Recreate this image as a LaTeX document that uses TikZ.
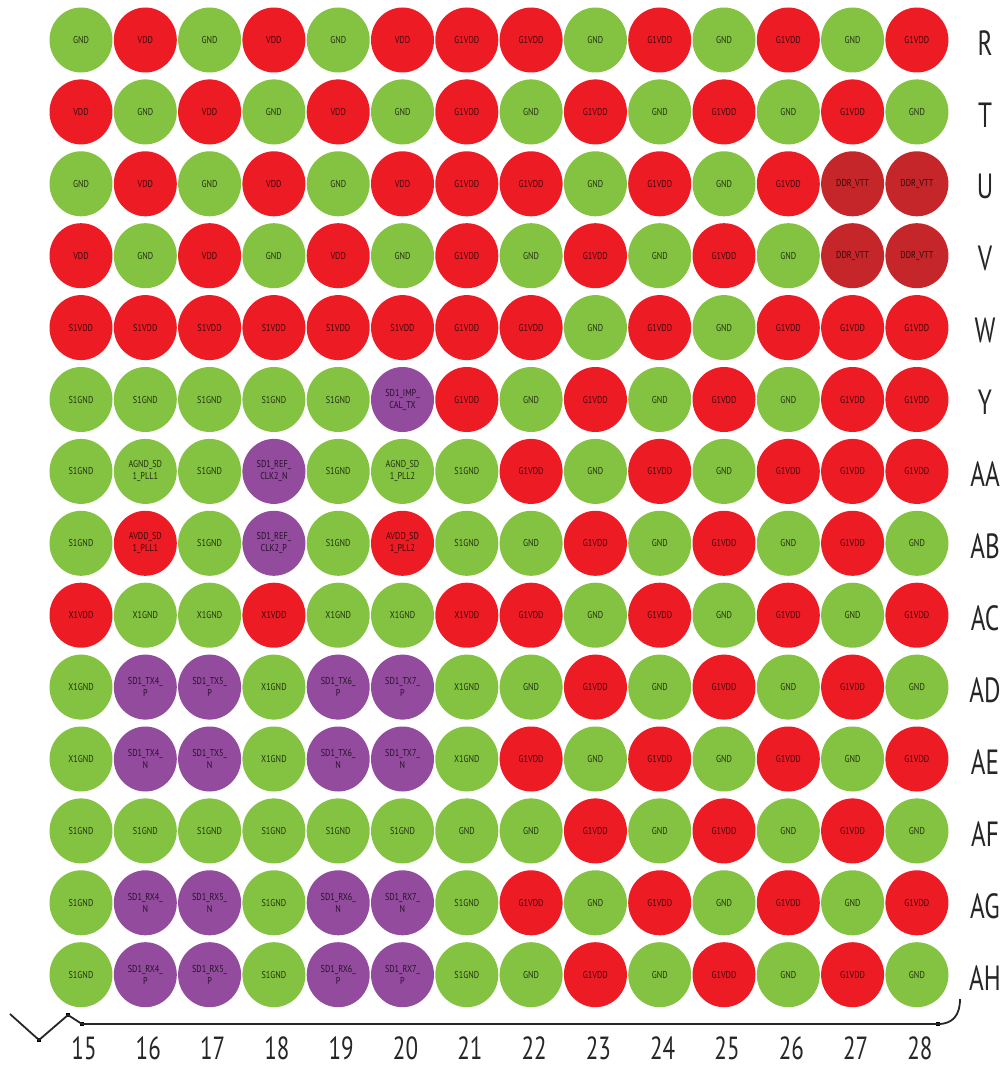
\documentclass[tikz,border=0pt]{standalone}
\usepackage{fontspec}
\newfontfamily\ballfont{PT Sans}[FakeStretch=0.82]
\newfontfamily\labfont{PT Sans}[FakeStretch=0.72]
\usetikzlibrary{shapes.geometric}
\definecolor{ballg}{HTML}{84C341}
\definecolor{ballr}{HTML}{ED1C24}
\definecolor{balld}{HTML}{C4262A}
\definecolor{ballp}{HTML}{934B9E}

\begin{document}
\begin{tikzpicture}[
  x=1pt,y=-1pt,
  ball/.style={ellipse,minimum width=63pt,minimum height=65pt,inner sep=0pt,align=center,
    font=\ballfont\fontsize{10}{12}\selectfont,text=black,text opacity=0.75},
  rowlab/.style={font=\labfont\fontsize{35}{35}\selectfont,text=black!85},
  collab/.style={font=\labfont\fontsize{32}{32}\selectfont,text=black!85,inner sep=0pt},
  tick/.style={fill=black,minimum size=4pt,inner sep=0pt},
  brace/.style={line width=1.8pt,black!85}
]
\useasboundingbox (0,0) rectangle (1008,1067);
% ball map, one row per line
\foreach \rn/\pins [count=\i from 0] in {
  R/{g/GND,r/VDD,g/GND,r/VDD,g/GND,r/VDD,r/G1VDD,r/G1VDD,g/GND,r/G1VDD,g/GND,r/G1VDD,g/GND,r/G1VDD},
  T/{r/VDD,g/GND,r/VDD,g/GND,r/VDD,g/GND,r/G1VDD,g/GND,r/G1VDD,g/GND,r/G1VDD,g/GND,r/G1VDD,g/GND},
  U/{g/GND,r/VDD,g/GND,r/VDD,g/GND,r/VDD,r/G1VDD,r/G1VDD,g/GND,r/G1VDD,g/GND,r/G1VDD,d/DDR\_VTT,d/DDR\_VTT},
  V/{r/VDD,g/GND,r/VDD,g/GND,r/VDD,g/GND,r/G1VDD,g/GND,r/G1VDD,g/GND,r/G1VDD,g/GND,d/DDR\_VTT,d/DDR\_VTT},
  W/{r/S1VDD,r/S1VDD,r/S1VDD,r/S1VDD,r/S1VDD,r/S1VDD,r/G1VDD,r/G1VDD,g/GND,r/G1VDD,g/GND,r/G1VDD,r/G1VDD,r/G1VDD},
  Y/{g/S1GND,g/S1GND,g/S1GND,g/S1GND,g/S1GND,p/{SD1\_IMP\_\\CAL\_TX},r/G1VDD,g/GND,r/G1VDD,g/GND,r/G1VDD,g/GND,r/G1VDD,r/G1VDD},
  AA/{g/S1GND,g/{AGND\_SD\\1\_PLL1},g/S1GND,p/{SD1\_REF\_\\CLK2\_N},g/S1GND,g/{AGND\_SD\\1\_PLL2},g/S1GND,r/G1VDD,g/GND,r/G1VDD,g/GND,r/G1VDD,r/G1VDD,r/G1VDD},
  AB/{g/S1GND,r/{AVDD\_SD\\1\_PLL1},g/S1GND,p/{SD1\_REF\_\\CLK2\_P},g/S1GND,r/{AVDD\_SD\\1\_PLL2},g/S1GND,g/GND,r/G1VDD,g/GND,r/G1VDD,g/GND,r/G1VDD,g/GND},
  AC/{r/X1VDD,g/X1GND,g/X1GND,r/X1VDD,g/X1GND,g/X1GND,r/X1VDD,r/G1VDD,g/GND,r/G1VDD,g/GND,r/G1VDD,g/GND,r/G1VDD},
  AD/{g/X1GND,p/{SD1\_TX4\_\\P},p/{SD1\_TX5\_\\P},g/X1GND,p/{SD1\_TX6\_\\P},p/{SD1\_TX7\_\\P},g/X1GND,g/GND,r/G1VDD,g/GND,r/G1VDD,g/GND,r/G1VDD,g/GND},
  AE/{g/X1GND,p/{SD1\_TX4\_\\N},p/{SD1\_TX5\_\\N},g/X1GND,p/{SD1\_TX6\_\\N},p/{SD1\_TX7\_\\N},g/X1GND,r/G1VDD,g/GND,r/G1VDD,g/GND,r/G1VDD,g/GND,r/G1VDD},
  AF/{g/S1GND,g/S1GND,g/S1GND,g/S1GND,g/S1GND,g/S1GND,g/GND,g/GND,r/G1VDD,g/GND,r/G1VDD,g/GND,r/G1VDD,g/GND},
  AG/{g/S1GND,p/{SD1\_RX4\_\\N},p/{SD1\_RX5\_\\N},g/S1GND,p/{SD1\_RX6\_\\N},p/{SD1\_RX7\_\\N},g/S1GND,r/G1VDD,g/GND,r/G1VDD,g/GND,r/G1VDD,g/GND,r/G1VDD},
  AH/{g/S1GND,p/{SD1\_RX4\_\\P},p/{SD1\_RX5\_\\P},g/S1GND,p/{SD1\_RX6\_\\P},p/{SD1\_RX7\_\\P},g/S1GND,g/GND,r/G1VDD,g/GND,r/G1VDD,g/GND,r/G1VDD,g/GND}}
{
  \foreach \t/\s [count=\c from 15] in \pins
    \node[ball,fill=ball\t] (\rn-\c) at ({81+64.3*(\c-15)},{40+71.9*\i}) {\s};
  \node[rowlab] (lab-\rn) at (985,{43+71.9*\i}) {\rn};
}
% column numbers
\foreach \c in {15,...,28}
  \node[collab] (num-\c) at ({84+64.3*(\c-15)},1048) {\c};
% bracket under the columns
\coordinate (b0) at (10,1014);
\node[tick] (t1) at (39,1040) {};
\node[tick] (t2) at (68,1015) {};
\node[tick] (t3) at (82,1024) {};
\node[tick] (t4) at (938,1024) {};
\coordinate (b5) at (960,999);
\draw[brace] (b0) -- (t1.center) -- (t2.center) -- (t3.center) -- (t4.center)
  .. controls (953,1024) and (960,1015) .. (b5);
\end{tikzpicture}
\end{document}
